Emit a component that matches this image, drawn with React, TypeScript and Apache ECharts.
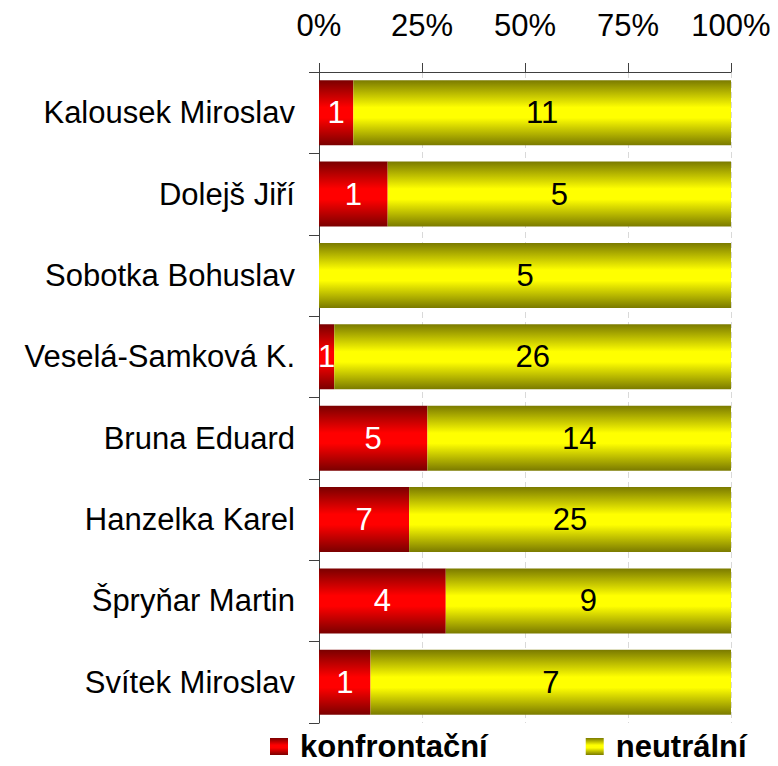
import React, { useEffect, useRef } from "react";
import * as echarts from "echarts";

const categories = [
  "Kalousek Miroslav",
  "Dolejš Jiří",
  "Sobotka Bohuslav",
  "Veselá-Samková K.",
  "Bruna Eduard",
  "Hanzelka Karel",
  "Špryňar Martin",
  "Svítek Miroslav",
];
const konfrontacni = [1, 1, 0, 1, 5, 7, 4, 1];
const neutralni = [11, 5, 5, 26, 14, 25, 9, 7];
const seriesNames = ["konfrontační", "neutrální"];

const FONT = "Liberation Sans, Arial, sans-serif";
const FS = 31;

function grad(dark: string, bright: string) {
  return new echarts.graphic.LinearGradient(0, 0, 0, 1, [
    { offset: 0, color: dark },
    { offset: 0.42, color: bright },
    { offset: 0.58, color: bright },
    { offset: 1, color: dark },
  ]);
}

export default function App() {
  const ref = useRef<HTMLDivElement>(null);
  useEffect(() => {
    if (!ref.current) return;
    const chart = echarts.init(ref.current, undefined, { renderer: "svg" });
    const totals = categories.map((_, i) => konfrontacni[i] + neutralni[i]);
    const pct = (arr: number[]) =>
      arr.map((v, i) => ({ value: (v / totals[i]) * 100, raw: v }));
    const labelFmt = (p: any) => (p.data.raw ? String(p.data.raw) : "");
    chart.setOption({
      animation: false,
      textStyle: { fontFamily: FONT },
      grid: { left: 319, right: 47, top: 72, bottom: 43 },
      xAxis: {
        type: "value",
        position: "top",
        min: 0,
        max: 100,
        interval: 25,
        axisLine: { show: true, lineStyle: { color: "#404040", width: 1 } },
        axisTick: { show: true, length: 9, lineStyle: { color: "#404040" } },
        axisLabel: {
          formatter: "{value}%",
          fontSize: FS,
          color: "#000",
          fontFamily: FONT,
          margin: 31,
        },
        splitLine: {
          show: true,
          lineStyle: { color: "#d9d9d9", type: [6, 4], width: 1 },
        },
      },
      yAxis: {
        type: "category",
        inverse: true,
        data: categories,
        axisLine: { show: true, lineStyle: { color: "#404040", width: 1 } },
        axisTick: { show: true, length: 10, lineStyle: { color: "#404040" } },
        axisLabel: {
          fontSize: FS,
          color: "#000",
          fontFamily: FONT,
          margin: 24,
        },
      },
      legend: {
        left: 265,
        top: 726,
        icon: "rect",
        itemWidth: 18,
        itemHeight: 17,
        itemGap: 98,
        textStyle: {
          fontSize: FS,
          fontWeight: "bold",
          color: "#000",
          fontFamily: FONT,
          padding: [0, 0, 0, 7],
        },
        data: seriesNames,
      },
      series: [
        {
          name: seriesNames[0],
          type: "bar",
          stack: "total",
          barCategoryGap: "20%",
          data: pct(konfrontacni),
          itemStyle: { color: grad("#7a0000", "#ff0000") },
          label: {
            show: true,
            position: "inside",
            formatter: labelFmt,
            fontSize: FS,
            color: "#fff",
            fontFamily: FONT,
          },
        },
        {
          name: seriesNames[1],
          type: "bar",
          stack: "total",
          barCategoryGap: "20%",
          data: pct(neutralni),
          itemStyle: { color: grad("#7a7a00", "#ffff00") },
          label: {
            show: true,
            position: "inside",
            formatter: labelFmt,
            fontSize: FS,
            color: "#000",
            fontFamily: FONT,
          },
        },
      ],
    });
    return () => chart.dispose();
  }, []);
  return <div ref={ref} style={{ width: 778, height: 766, position: "absolute", left: 0, top: 0 }} />;
}
